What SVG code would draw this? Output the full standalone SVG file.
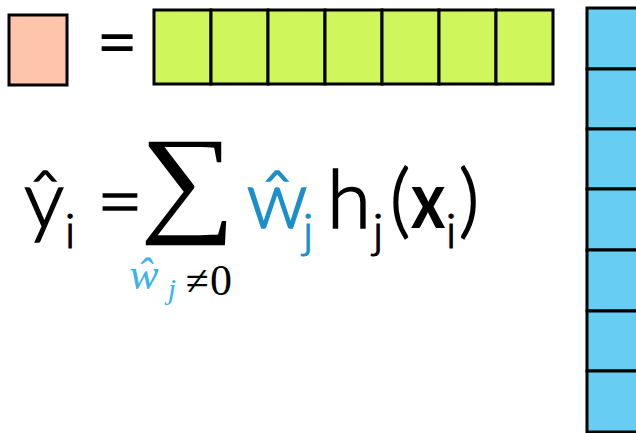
<svg xmlns="http://www.w3.org/2000/svg" width="636" height="433" viewBox="0 0 636 433">
<style>
.cell{stroke:#000;stroke-width:3}
.f{font-family:Lato,"Liberation Sans",Arial,sans-serif;font-weight:300;font-size:80px;fill:#000;stroke:#000;stroke-width:1.6px;text-anchor:middle}
.s{font-family:Lato,"Liberation Sans",Arial,sans-serif;font-weight:300;font-size:48px;fill:#000;stroke:#000;stroke-width:1.1px;text-anchor:middle}
.bold{font-weight:700;stroke-width:0}
.b{fill:#1B8FCB;stroke:#1B8FCB}
.m{font-family:"Liberation Serif","Times New Roman",serif;fill:#3AB2EA;font-style:italic}
.r{font-family:"Liberation Serif","Times New Roman",serif;fill:#000}
</style>
<rect width="636" height="433" fill="#fff"/>
<g id="peach">
<rect class="cell" x="9" y="15" width="58" height="70" fill="#FFC5AB"/>
</g>
<g id="equals-top">
<text class="f" x="0" y="0" transform="translate(117,67) scale(1.2)" style="font-size:60px;font-weight:400;stroke-width:0">=</text>
</g>
<g id="green-row" fill="#CFF65A">
<rect class="cell" x="154" y="10" width="57" height="74"/>
<rect class="cell" x="211" y="10" width="57" height="74"/>
<rect class="cell" x="268" y="10" width="57" height="74"/>
<rect class="cell" x="325" y="10" width="57" height="74"/>
<rect class="cell" x="382" y="10" width="57" height="74"/>
<rect class="cell" x="439" y="10" width="57" height="74"/>
<rect class="cell" x="496" y="10" width="57" height="74"/>
</g>
<g id="blue-column" fill="#68CDF3">
<rect class="cell" x="587" y="8" width="60" height="61"/>
<rect class="cell" x="587" y="69" width="60" height="60"/>
<rect class="cell" x="587" y="129" width="60" height="60"/>
<rect class="cell" x="587" y="189" width="60" height="61"/>
<rect class="cell" x="587" y="250" width="60" height="61"/>
<rect class="cell" x="587" y="311" width="60" height="60"/>
<rect class="cell" x="587" y="371" width="60" height="61"/>
</g>
<g id="formula">
<text class="f" x="44" y="228">ŷ</text>
<text class="s" x="70" y="248">i</text>
<text class="f" x="120" y="230">=</text>
<text class="r" x="0" y="220" font-size="120" text-anchor="middle" transform="translate(188,0) scale(1.12,1)">∑</text>
<text class="f b" x="277" y="228">ŵ</text>
<text class="s b" x="308" y="248">j</text>
<text class="f" x="349" y="228">h</text>
<text class="s" x="378" y="248">j</text>
<text class="f" x="400" y="228">(</text>
<text class="f bold" x="0" y="228" transform="translate(428,0) scale(0.82,1)">x</text>
<text class="s" x="451" y="248">i</text>
<text class="f" x="469" y="228">)</text>
</g>
<g id="sum-subscript">
<text class="m" x="144" y="289" font-size="44" text-anchor="middle">ŵ</text>
<text class="m" x="172" y="299" font-size="30" text-anchor="middle">j</text>
<text class="r" x="197" y="295" font-size="42" text-anchor="middle">≠</text>
<text class="r" x="221" y="295" font-size="44" text-anchor="middle">0</text>
</g>
</svg>
